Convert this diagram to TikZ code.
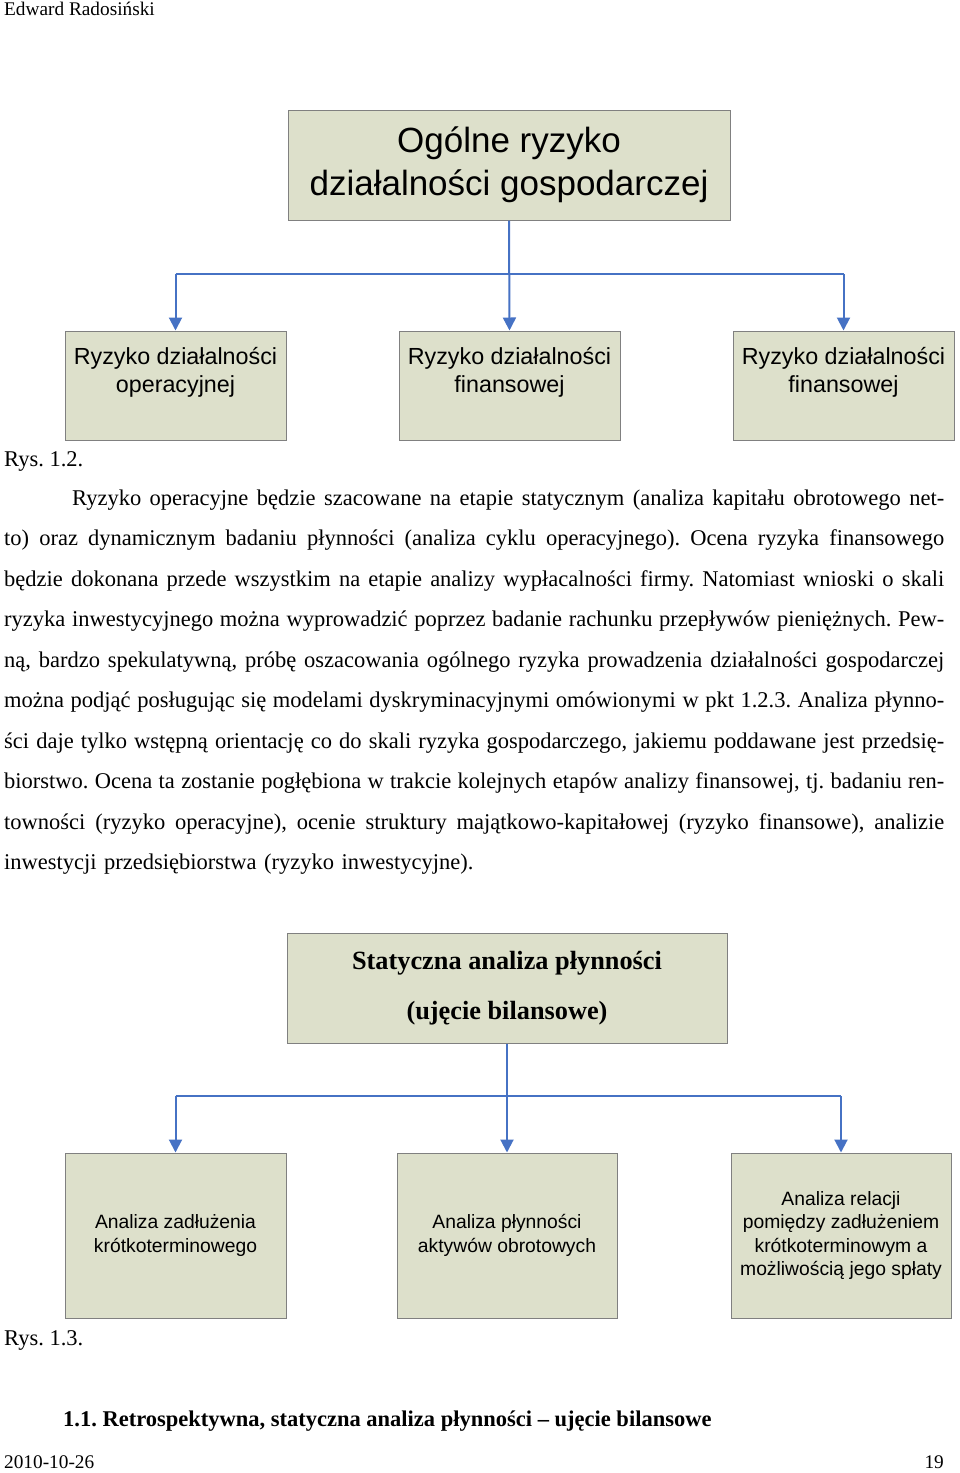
\documentclass[tikz,border=0pt]{standalone}
\usepackage{fontspec}
\setmainfont{Liberation Serif}
\newfontfamily\arialfont{Liberation Sans}
\usetikzlibrary{arrows.meta,positioning}
\definecolor{boxfill}{RGB}{221,224,203}
\definecolor{boxline}{RGB}{128,128,128}
\definecolor{linkblue}{RGB}{70,114,196}
\tikzset{
  box/.style={draw=boxline,fill=boxfill,line width=1pt,inner sep=0pt,align=center},
  link/.style={draw=linkblue,line width=2pt},
  tip/.style={-{Triangle[length=13pt,width=13pt]}},
  bodytext/.style={inner sep=0pt,font=\fontsize{22.5}{40.5}\selectfont}
}
\frenchspacing
\newcommand{\pline}[1]{\noindent\hbox to\linewidth{\spaceskip=0.25em plus 0.3em minus 0.12em #1}\par}
\begin{document}
\begin{tikzpicture}[x=1pt,y=-1pt]
    \useasboundingbox (0,0) rectangle (960,1473);
    %% Page header and footer
    \node[anchor=base west,inner sep=0pt,font=\fontsize{19.3}{23}\selectfont] (author) at (4,15) {Edward Radosiński};
    \node[anchor=base west,inner sep=0pt,font=\fontsize{19.3}{23}\selectfont] (date) at (4,1468) {2010-10-26};
    \node[anchor=base east,inner sep=0pt,font=\fontsize{19.3}{23}\selectfont] (page) at (944,1468) {19};
    %% Figure 1.2
    \node[box,minimum width=442pt,minimum height=110pt,font=\arialfont\fontsize{35}{43}\selectfont] (general) at (509,165) {Ogólne ryzyko\\działalności gospodarczej};
    \node[box,minimum width=221pt,minimum height=109pt] (opA) at (175.5,385.5) {};
    \node[box,minimum width=221pt,minimum height=109pt] (opB) at (509.5,385.5) {};
    \node[box,minimum width=221pt,minimum height=109pt] (opC) at (843.5,385.5) {};
    \foreach \n/\t in {opA/operacyjnej,opB/finansowej,opC/finansowej}
        \node[anchor=base,align=center,inner sep=0pt,font=\arialfont\fontsize{23.3}{28}\selectfont] (\n text) at ([yshift=-62pt]\n.north) {Ryzyko działalności\\\t};
    \coordinate (forkA) at (509,274);
    \draw[link] (opA.north |- forkA) -- (opC.north |- forkA);
    \draw[link,tip] (general.south) -- (opB.north);
    \foreach \n in {opA,opC}
        \draw[link,tip] (\n.north |- forkA) -- (\n.north);
    \node[anchor=base west,bodytext] (rysA) at (4,466) {Rys. 1.2.};
    %% Body text
    \node[anchor=base west,text width=940pt,bodytext] (body) at (4,505) {%
        \pline{\kern68pt Ryzyko operacyjne będzie szacowane na etapie statycznym (analiza kapitału obrotowego net-}
        \pline{to) oraz dynamicznym badaniu płynności (analiza cyklu operacyjnego). Ocena ryzyka finansowego}
        \pline{będzie dokonana przede wszystkim na etapie analizy wypłacalności firmy. Natomiast wnioski o skali}
        \pline{ryzyka inwestycyjnego można wyprowadzić poprzez badanie rachunku przepływów pieniężnych. Pew-}
        \pline{ną, bardzo spekulatywną, próbę oszacowania ogólnego ryzyka prowadzenia działalności gospodarczej}
        \pline{można podjąć posługując się modelami dyskryminacyjnymi omówionymi w pkt 1.2.3. Analiza płynno-}
        \pline{ści daje tylko wstępną orientację co do skali ryzyka gospodarczego, jakiemu poddawane jest przedsię-}
        \pline{biorstwo. Ocena ta zostanie pogłębiona w trakcie kolejnych etapów analizy finansowej, tj. badaniu ren-}
        \pline{towności (ryzyko operacyjne), ocenie struktury majątkowo-kapitałowej (ryzyko finansowe), analizie}
        \noindent inwestycji przedsiębiorstwa (ryzyko inwestycyjne).};
    %% Figure 1.3
    \node[box,minimum width=440pt,minimum height=110pt,font=\bfseries\fontsize{26.3}{50}\selectfont] (static) at (507,988) {Statyczna analiza płynności\\(ujęcie bilansowe)};
    \node[box,minimum width=221pt,minimum height=165pt,font=\arialfont\fontsize{19.3}{23.5}\selectfont] (anA) at (175.5,1235.5) {Analiza zadłużenia\\krótkoterminowego};
    \node[box,minimum width=220pt,minimum height=165pt,font=\arialfont\fontsize{19.3}{23.5}\selectfont] (anB) at (507,1235.5) {Analiza płynności\\aktywów obrotowych};
    \node[box,minimum width=220pt,minimum height=165pt,font=\arialfont\fontsize{19.3}{23.5}\selectfont] (anC) at (841,1235.5) {Analiza relacji\\pomiędzy zadłużeniem\\krótkoterminowym a\\możliwością jego spłaty};
    \coordinate (forkB) at (507,1096);
    \draw[link] (anA.north |- forkB) -- (anC.north |- forkB);
    \draw[link,tip] (static.south) -- (anB.north);
    \foreach \n in {anA,anC}
        \draw[link,tip] (\n.north |- forkB) -- (\n.north);
    \node[anchor=base west,bodytext] (rysB) at (4,1345) {Rys. 1.3.};
    \node[anchor=base west,inner sep=0pt,font=\bfseries\fontsize{22.5}{27}\selectfont] (section) at (63,1426) {1.1. Retrospektywna, statyczna analiza płynności – ujęcie bilansowe};
\end{tikzpicture}
\end{document}
